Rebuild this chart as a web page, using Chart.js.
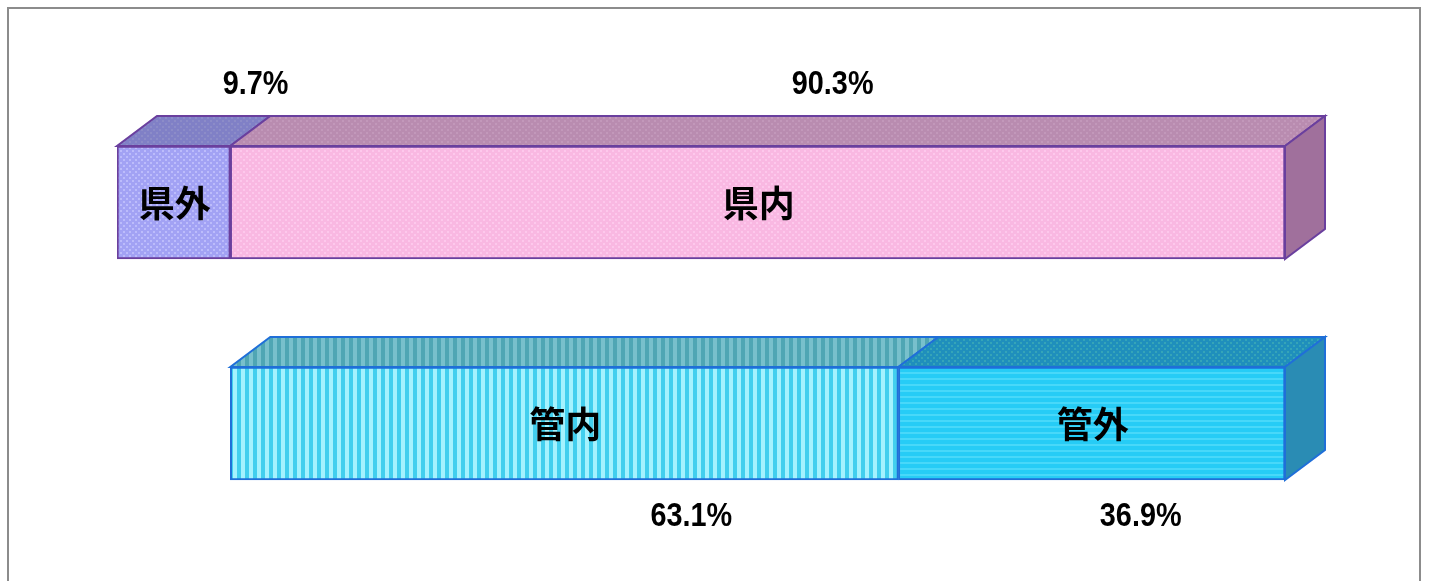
<!DOCTYPE html>
<html lang="ja">
<head>
    <meta charset="UTF-8">
    <title>県内・県外 / 管内・管外</title>
    <script src="https://cdn.jsdelivr.net/npm/chart.js"></script>
    <style>
        html, body { margin: 0; padding: 0; background: #fff; overflow: hidden; }
        #wrap { position: relative; width: 1446px; height: 581px; overflow: hidden; }
        #frame { position: absolute; left: 7px; top: 7px; width: 1410px; height: 600px; border: 2px solid #8c8c8c; }
        canvas { position: absolute; left: 0; top: 0; }
    </style>
</head>
<body>
    <div id="wrap">
        <div id="frame"></div>
        <canvas id="chart" width="1446" height="581"></canvas>
    </div>
    <script>
        // データ
        const rowNames = ['県', '管'];
        const segmentNames = ['県外', '県内', '管内', '管外'];
        const shares = [9.7, 90.3, 63.1, 36.9];
        const segmentRows = [0, 0, 1, 1];
        // 横軸上の棒の両端
        const barStarts = [0, 9.7, 9.7, 66.9];
        const barEnds = [9.7, 100, 66.9, 100];

        // 見た目
        const DEPTH_X = 40, DEPTH_Y = -30;
        const faceStyles = [
            { kind: 'dots', base: '#a2a2f4', spot: '#bcbcfb', top: '#8080c6', topAlt: '#8c8cc8', side: '#8a6a9e', line: '#6a3f9e' },
            { kind: 'dots', base: '#f9b8e2', spot: '#fdc8ec', top: '#b98cb0', topAlt: '#c298ba', side: '#a0709c', line: '#6a3f9e' },
            { kind: 'stripes', base: '#42cfee', spot: '#a4f2fe', top: '#4fa6b4', topAlt: '#78c0cc', side: '#2a8cb4', line: '#1f6fd8' },
            { kind: 'lines', base: '#26ccf6', spot: '#48d8f9', top: '#1f8fbc', topAlt: '#35a4b8', side: '#2a8cb4', line: '#1f6fd8' }
        ];
        // 値ラベルの位置（棒の中心からのずれ）
        const shareLabelOffsets = [
            { x: 82, y: -118 }, { x: 75, y: -118 }, { x: 127, y: 93 }, { x: 49, y: 93 }
        ];

        function makePattern(kind, base, spot) {
            const c = document.createElement('canvas');
            const g = c.getContext('2d');
            c.width = kind === 'stripes' ? 8 : 6;
            c.height = kind === 'stripes' ? 8 : 6;
            g.fillStyle = base;
            g.fillRect(0, 0, c.width, c.height);
            g.fillStyle = spot;
            if (kind === 'stripes') {
                g.fillRect(1, 0, 4, 8);
            } else if (kind === 'lines') {
                g.fillRect(0, 0, 6, 2);
            } else {
                g.fillRect(0, 0, 2, 2);
                g.fillRect(3, 3, 2, 2);
            }
            return g.createPattern(c, 'repeat');
        }

        function face(ctx, pts, fill, stroke) {
            ctx.beginPath();
            pts.forEach((p, i) => i ? ctx.lineTo(p[0], p[1]) : ctx.moveTo(p[0], p[1]));
            ctx.closePath();
            ctx.fillStyle = fill;
            ctx.fill();
            ctx.strokeStyle = stroke;
            ctx.lineWidth = 2;
            ctx.stroke();
        }

        // 立体の上面・側面
        const depthFaces = {
            id: 'depthFaces',
            beforeDatasetsDraw(chart) {
                const ctx = chart.ctx;
                segmentNames.forEach((name, i) => {
                    const bar = chart.getDatasetMeta(i).data[segmentRows[i]];
                    const st = faceStyles[i];
                    const top = bar.y - bar.height / 2, bottom = bar.y + bar.height / 2;
                    face(ctx, [[bar.base, top], [bar.x, top], [bar.x + DEPTH_X, top + DEPTH_Y], [bar.base + DEPTH_X, top + DEPTH_Y]],
                        makePattern(st.kind === 'stripes' ? 'stripes' : 'dots', st.top, st.topAlt), st.line);
                    if (barEnds[i] === 100) {
                        face(ctx, [[bar.x, top], [bar.x + DEPTH_X, top + DEPTH_Y], [bar.x + DEPTH_X, bottom + DEPTH_Y], [bar.x, bottom]],
                            st.side, st.line);
                    }
                });
            }
        };

        // 区分名と割合
        const textLabels = {
            id: 'textLabels',
            afterDatasetsDraw(chart) {
                const ctx = chart.ctx;
                ctx.save();
                ctx.textAlign = 'center';
                ctx.textBaseline = 'middle';
                ctx.fillStyle = '#000';
                segmentNames.forEach((name, i) => {
                    const bar = chart.getDatasetMeta(i).data[segmentRows[i]];
                    const cx = (bar.base + bar.x) / 2;
                    ctx.font = 'bold 36px "Noto Sans CJK JP"';
                    ctx.fillText(name, cx + 1, bar.y + 1);
                    const off = shareLabelOffsets[i];
                    ctx.save();
                    ctx.translate(cx + off.x, bar.y + off.y + 1);
                    ctx.scale(0.93, 1.05);
                    ctx.font = 'bold 31px "Liberation Sans"';
                    ctx.fillText(shares[i].toFixed(1) + '%', 0, 0);
                    ctx.restore();
                });
                ctx.restore();
            }
        };

        new Chart(document.getElementById('chart').getContext('2d'), {
            type: 'bar',
            data: {
                labels: rowNames,
                datasets: segmentNames.map((name, i) => ({
                    label: name,
                    data: rowNames.map((_, r) => r === segmentRows[i] ? [barStarts[i], barEnds[i]] : null),
                    backgroundColor: makePattern(faceStyles[i].kind, faceStyles[i].base, faceStyles[i].spot),
                    borderColor: faceStyles[i].line,
                    borderWidth: 2,
                    borderSkipped: false,
                    barThickness: 113
                }))
            },
            options: {
                indexAxis: 'y',
                responsive: false,
                animation: false,
                devicePixelRatio: 1,
                layout: { padding: { left: 117, right: 161, top: 92, bottom: 47 } },
                plugins: { legend: { display: false }, tooltip: { enabled: false }, title: { display: false } },
                scales: {
                    x: { display: false, min: 0, max: 100 },
                    y: { display: false, stacked: true }
                }
            },
            plugins: [depthFaces, textLabels]
        });
    </script>
</body>
</html>
